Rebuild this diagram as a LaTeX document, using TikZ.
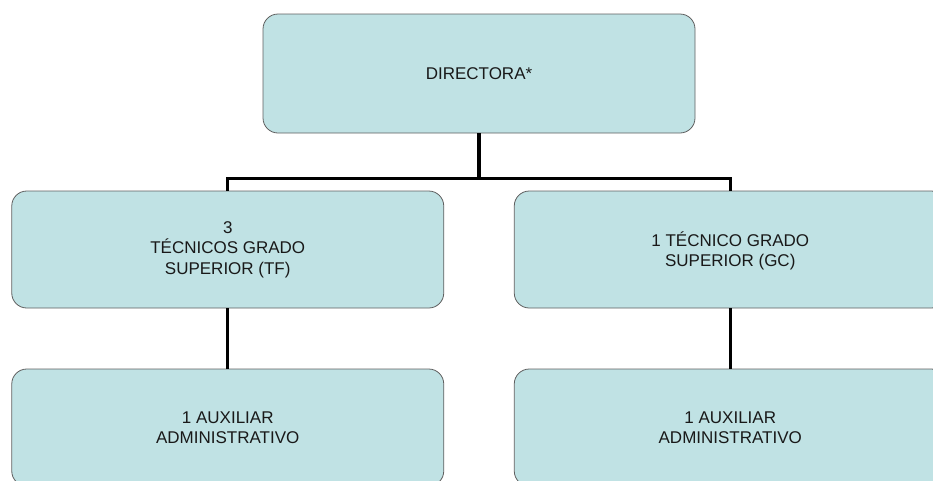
\documentclass[tikz,border=0pt]{standalone}
\usepackage{fontspec}
\setmainfont{Liberation Sans}
\definecolor{unitfill}{RGB}{192,226,228}
\definecolor{unitline}{RGB}{95,95,95}
\definecolor{unittext}{RGB}{25,25,25}
\tikzset{
  unitbox/.style={draw=unitline,fill=unitfill,text=unittext,line width=0.8pt,
    rounded corners=15pt,minimum width=432pt,minimum height=117pt,
    align=center,inner sep=0pt,font=\fontsize{17}{20.5}\selectfont},
}
\begin{document}
\begin{tikzpicture}[x=1pt,y=1pt,every node/.style={unitbox},
  level distance=176pt,
  edge from parent/.style={draw,black,line width=3.2pt},
  level 1/.style={sibling distance=502.5pt,
    edge from parent path={(\tikzparentnode.south) -- ++(0,-45) -| (\tikzchildnode.north)}},
  level 2/.style={level distance=178pt,
    edge from parent path={(\tikzparentnode.south) -- (\tikzchildnode.north)}}]
    \clip (0,0) rectangle (933,-480);

    \node[minimum height=119pt] (dir) at (479,-73.5) {DIRECTORA*}
        child { node (tf) {3\\TÉCNICOS GRADO\\SUPERIOR (TF)}
            child { node (auxtf) {1 AUXILIAR\\ADMINISTRATIVO} }
        }
        child { node[text height=38pt] (gc) {1 TÉCNICO GRADO\\SUPERIOR (GC)}
            child { node (auxgc) {1 AUXILIAR\\ADMINISTRATIVO} }
        };
\end{tikzpicture}
\end{document}
